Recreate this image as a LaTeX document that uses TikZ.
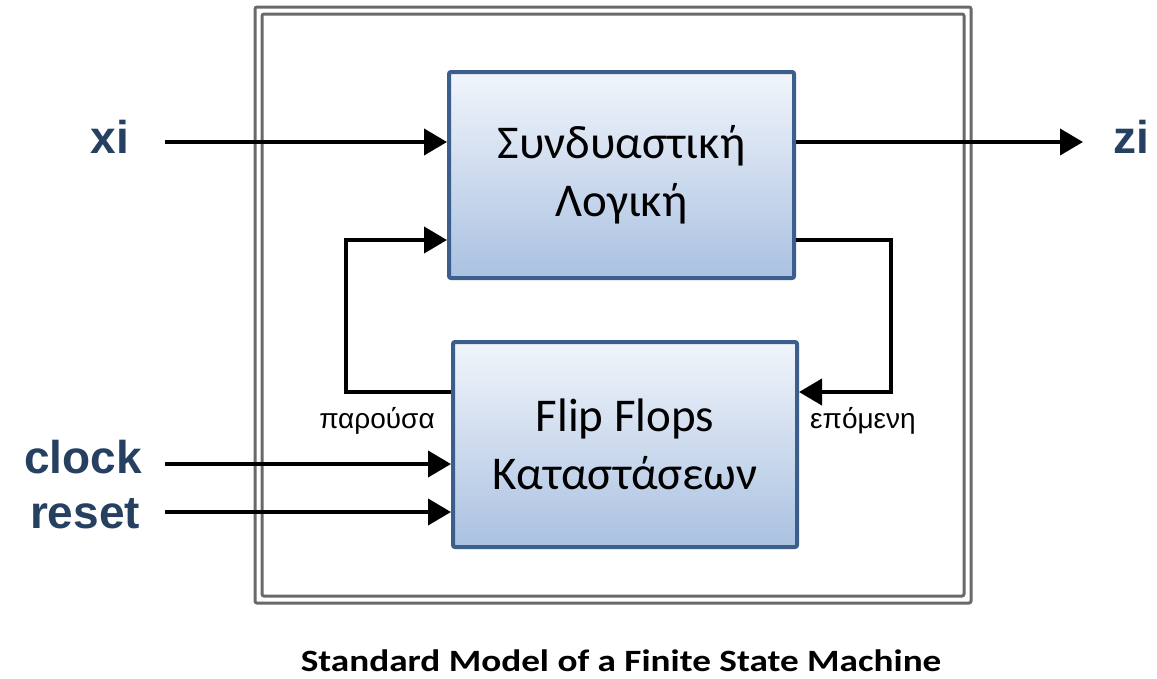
\documentclass[tikz,border=0pt]{standalone}
\usepackage{fontspec}
\setmainfont{Carlito}
\newfontfamily\arialfont{Liberation Sans}
\usetikzlibrary{arrows.meta}
\definecolor{frame}{RGB}{105,105,105}
\definecolor{blockedge}{RGB}{60,94,140}
\definecolor{blocktop}{RGB}{241,245,251}
\definecolor{blockbot}{RGB}{170,193,225}
\definecolor{sigcol}{RGB}{38,64,98}
\tikzset{
  block/.style={draw=blockedge, line width=4pt, rounded corners=2pt,
    top color=blocktop, bottom color=blockbot, align=center,
    font=\fontsize{47}{58}\selectfont, inner sep=0pt},
  wire/.style={line width=4pt, -{Triangle[length=23pt,width=26pt]}},
  sig/.style={font=\arialfont\bfseries\fontsize{46}{50}\selectfont, text=sigcol, anchor=base, inner sep=0pt},
  statelbl/.style={font=\arialfont\fontsize{28}{32}\selectfont, anchor=base, inner sep=0pt},
  frameline/.style={draw=frame, line width=3pt, rounded corners=2pt}
}
\begin{document}
\begin{tikzpicture}[x=1pt,y=-1pt]
\useasboundingbox (0,0) rectangle (1157,678);
\fill[white] (0,0) rectangle (1157,678);

% enclosing double frame
\draw[frameline] (255,7) rectangle (971,603);
\draw[frameline] (262,14) rectangle (964,596);

% the two blocks
\node[block, minimum width=345pt, minimum height=206pt] (cl) at (621.5,175) {Συνδυαστική\\Λογική};
\node[block, minimum width=344pt, minimum height=205pt] (ff) at (625,444.5) {Flip Flops\\Καταστάσεων};

% wire end points and bends
\coordinate (xiS) at (165,142);
\coordinate (ziE) at (1083,142);
\coordinate (ckS) at (165,464);
\coordinate (rsS) at (165,512);
\coordinate (lfb) at (346,392);
\coordinate (lft) at (346,240);
\coordinate (rft) at (891,240);
\coordinate (rfb) at (891,392);

% signals
\draw[wire] (xiS) -- (xiS -| cl.west);
\draw[wire] (cl.east |- ziE) -- (ziE);
\draw[wire] (ckS) -- (ckS -| ff.west);
\draw[wire] (rsS) -- (rsS -| ff.west);

% feedback loops
\draw[wire] (ff.west |- lfb) -- (lfb) -- (lft) -- (cl.west |- lft);
\draw[wire] (cl.east |- rft) -- (rft) -- (rfb) -- (ff.east |- rfb);

% signal names
\node[sig] (xi) at (110,153) {xi};
\node[sig] (zi) at (1131,153) {zi};
\node[sig] (clock) at (83,473) {clock};
\node[sig] (reset) at (85,528) {reset};

% state labels
\node[statelbl] (pres) at (377,428) {παρούσα};
\node[statelbl] (next) at (863,428) {επόμενη};

% caption
\node[font=\bfseries\fontsize{31}{36}\selectfont, anchor=base, inner sep=0pt] (cap) at (621,671)
  {\scalebox{1.2}[1]{Standard Model of a Finite State Machine}};
\end{tikzpicture}
\end{document}
